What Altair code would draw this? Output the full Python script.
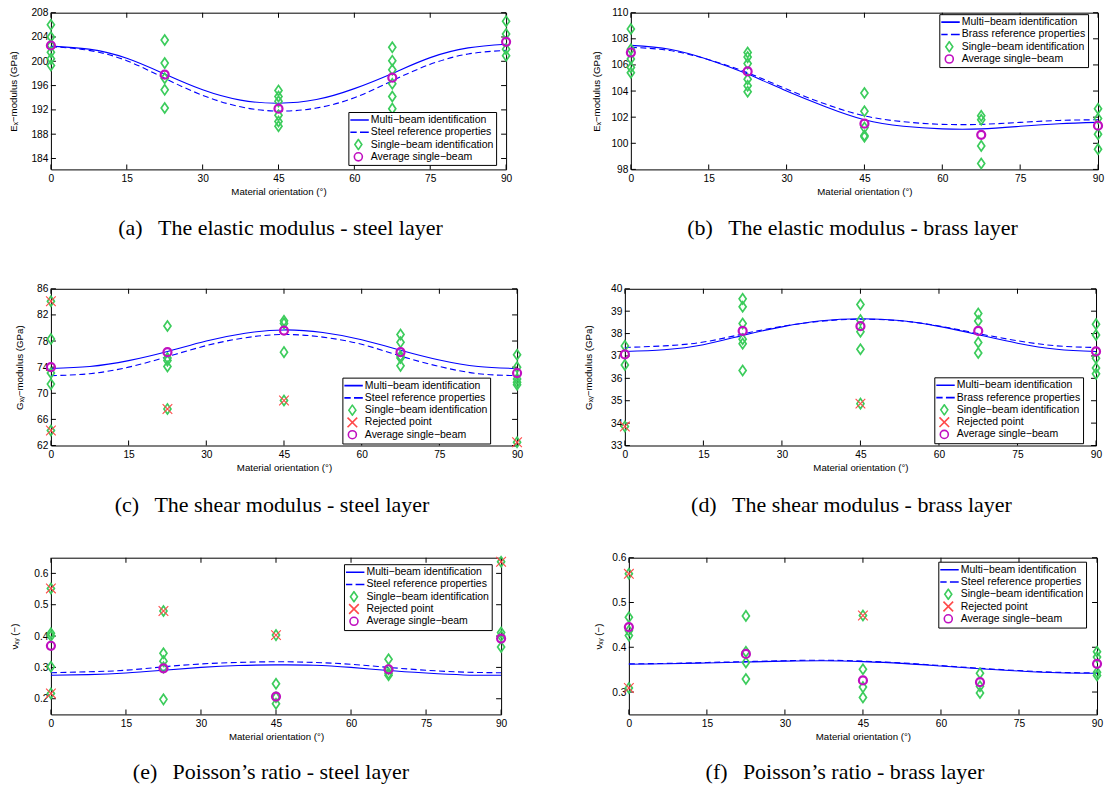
import altair as alt
import pandas as pd

# ---------------- shared values ----------------
CURVE_ANGLES = [0, 7.5, 15, 22.5, 30, 37.5, 45, 52.5, 60, 67.5, 75, 82.5, 90]
BEAM_ANGLES = [0, 22.5, 45, 67.5, 90]
X_TICKS = [0, 15, 30, 45, 60, 75, 90]

MULTI = "Multi\u2212beam identification"
SINGLE = "Single\u2212beam identification"
REJECTED = "Rejected point"
AVERAGE = "Average single\u2212beam"
STEEL_REF = "Steel reference properties"
BRASS_REF = "Brass reference properties"

# ---------------- (a) elastic modulus - steel ----------------
A_MULTI = [202.5, 202.0, 200.5, 197.9, 195.3, 193.6, 193.1, 193.7, 195.5, 198.0, 200.6, 202.2, 202.8]
A_REF = [202.4, 201.8, 200.1, 197.2, 194.4, 192.5, 191.8, 192.3, 194.0, 196.8, 199.5, 201.2, 201.8]
A_SINGLE = [[206.0, 204.0, 202.6, 201.5, 200.4, 199.3],
            [203.5, 199.7, 197.2, 195.3, 192.3],
            [195.2, 194.2, 193.4, 191.1, 190.1, 189.3],
            [202.3, 200.1, 198.6, 196.3, 194.2, 192.2],
            [206.6, 204.5, 202.0, 200.9]]
A_REJECTED = [[], [], [], [], []]
A_AVERAGE = [202.6, 197.8, 192.2, 197.3, 203.2]
A_YTICKS = [184, 188, 192, 196, 200, 204, 208]

# ---------------- (b) elastic modulus - brass ----------------
B_MULTI = [107.5, 107.2, 106.4, 105.3, 104.0, 102.8, 101.8, 101.3, 101.1, 101.1, 101.3, 101.5, 101.6]
B_REF = [107.35, 107.1, 106.4, 105.4, 104.15, 103.0, 102.1, 101.65, 101.45, 101.45, 101.6, 101.75, 101.8]
B_SINGLE = [[108.75, 107.2, 106.45, 105.8, 105.4],
            [106.95, 106.6, 106.1, 104.9, 104.4, 103.95],
            [103.85, 102.45, 101.2, 100.6, 100.5],
            [102.1, 101.8, 99.8, 98.45],
            [102.65, 101.9, 100.7, 99.55]]
B_REJECTED = [[], [], [], [], []]
B_AVERAGE = [106.95, 105.5, 101.5, 100.65, 101.35]
B_YTICKS = [98, 100, 102, 104, 106, 108, 110]

# ---------------- (c) shear modulus - steel ----------------
C_MULTI = [73.8, 74.1, 75.0, 76.4, 78.0, 79.2, 79.7, 79.3, 78.2, 76.6, 75.1, 74.1, 73.8]
C_REF = [72.7, 73.0, 74.0, 75.6, 77.3, 78.5, 79.0, 78.6, 77.5, 75.7, 74.1, 73.0, 72.7]
C_SINGLE = [[78.3, 73.1, 71.4],
            [80.3, 75.4, 75.0, 74.1],
            [81.1, 80.7, 76.3],
            [79.0, 77.8, 75.7, 75.4, 74.2],
            [75.9, 74.0, 72.2, 71.7, 71.3]]
C_REJECTED = [[84.1, 64.3], [67.6], [68.9], [], [62.5]]
C_AVERAGE = [74.0, 76.3, 79.6, 76.3, 73.1]
C_YTICKS = [62, 66, 70, 74, 78, 82, 86]

# ---------------- (d) shear modulus - brass ----------------
D_MULTI = [37.2, 37.28, 37.5, 37.92, 38.3, 38.57, 38.66, 38.58, 38.32, 37.95, 37.57, 37.3, 37.2]
D_REF = [37.38, 37.45, 37.62, 37.98, 38.32, 38.55, 38.64, 38.57, 38.34, 38.0, 37.68, 37.45, 37.38]
D_SINGLE = [[37.45, 36.6],
            [39.55, 39.2, 38.45, 37.75, 37.55, 36.35],
            [39.3, 38.6, 38.08, 37.3],
            [38.9, 38.56, 37.6, 37.13],
            [38.42, 37.94, 36.9, 36.46, 36.2]]
D_REJECTED = [[33.85], [], [34.87], [], []]
D_AVERAGE = [37.07, 38.12, 38.33, 38.12, 37.2]
D_YTICKS = [33, 34, 35, 36, 37, 38, 39, 40]

# ---------------- (e) Poisson's ratio - steel ----------------
E_MULTI = [0.275, 0.277, 0.282, 0.291, 0.300, 0.306, 0.308, 0.307, 0.300, 0.290, 0.282, 0.276, 0.275]
E_REF = [0.283, 0.286, 0.291, 0.302, 0.311, 0.316, 0.318, 0.316, 0.310, 0.300, 0.291, 0.285, 0.283]
E_SINGLE = [[0.409, 0.400, 0.302],
            [0.345, 0.320, 0.300, 0.198],
            [0.248, 0.205, 0.184],
            [0.326, 0.294, 0.281, 0.275],
            [0.411, 0.400, 0.365]]
E_REJECTED = [[0.552, 0.217], [0.480], [0.403], [], [0.637]]
E_AVERAGE = [0.369, 0.297, 0.207, 0.294, 0.392]
E_YTICKS = [0.2, 0.3, 0.4, 0.5, 0.6]

# ---------------- (f) Poisson's ratio - brass ----------------
F_MULTI = [0.362, 0.363, 0.365, 0.367, 0.369, 0.370, 0.368, 0.364, 0.358, 0.352, 0.347, 0.343, 0.342]
F_REF = [0.363, 0.364, 0.366, 0.368, 0.370, 0.371, 0.369, 0.365, 0.359, 0.353, 0.348, 0.344, 0.343]
F_SINGLE = [[0.467, 0.437, 0.426],
            [0.470, 0.390, 0.366, 0.329],
            [0.351, 0.311, 0.288],
            [0.342, 0.313, 0.298],
            [0.390, 0.378, 0.344, 0.337]]
F_REJECTED = [[0.564, 0.309], [], [0.471], [], []]
F_AVERAGE = [0.445, 0.385, 0.326, 0.322, 0.363]
F_YTICKS = [0.3, 0.4, 0.5, 0.6]

# ---------------- styling ----------------
BLUE = "#0000ff"
GREEN = "#3ccc5c"
RED = "#ff4a4a"
MAGENTA = "#c010c0"
SANS = "Liberation Sans"
SERIF = "Liberation Serif"

PATH = {
    MULTI: "M-1.9,0H1.9",
    "ref": "M-1.9,0H-0.3M0.3,0H1.9",
    SINGLE: "M0,-0.92L0.64,0L0,0.92L-0.64,0Z",
    REJECTED: "M-0.88,-0.88L0.88,0.88M-0.88,0.88L0.88,-0.88",
    AVERAGE: "M0.73,0A0.73,0.73,0,1,1,-0.73,0A0.73,0.73,0,1,1,0.73,0Z",
}
COLOR = {MULTI: BLUE, "ref": BLUE, SINGLE: GREEN, REJECTED: RED, AVERAGE: MAGENTA}
SYM = 121
TICK_LEN = 5


def points_frame(values_per_angle, label):
    rows = []
    for ang, vals in zip(BEAM_ANGLES, values_per_angle):
        for v in vals:
            rows.append({"angle": ang, "value": v, "series": label})
    return pd.DataFrame(rows, columns=["angle", "value", "series"])


def panel(multi, ref, single, rejected, average, yticks, ydomain, yfmt, ytitle,
          ref_label, caption, legend_xy, width, height, y_extent, y_title_pad,
          with_rejected, cap_offset, cap_dx):
    keys = [MULTI, "ref", SINGLE] + ([REJECTED] if with_rejected else []) + [AVERAGE]
    names = [ref_label if k == "ref" else k for k in keys]
    shape_scale = alt.Scale(domain=names, range=[PATH[k] for k in keys])
    color_scale = alt.Scale(domain=names, range=[COLOR[k] for k in keys])
    legend = alt.Legend(title=None, orient="none", legendX=legend_xy[0], legendY=legend_xy[1],
                        padding=2, strokeColor="black", fillColor="white", cornerRadius=0,
                        labelFont=SANS, labelFontSize=10.5, labelColor="black",
                        symbolSize=SYM, symbolStrokeWidth=1.6, symbolOffset=1.5,
                        labelOffset=6, rowPadding=0.3, clipHeight=12, labelLimit=300)

    xs = alt.Scale(domain=[0, 90], nice=False, zero=False)
    ys = alt.Scale(domain=ydomain, nice=False, zero=False)
    xaxis = alt.Axis(values=X_TICKS, format="d", title="Material orientation (\u00b0)",
                     labelFlush=False, labelOverlap=False)
    yaxis = alt.Axis(values=yticks, format=yfmt, title=ytitle, labelFlush=False,
                     labelOverlap=False, minExtent=y_extent, maxExtent=y_extent,
                     titlePadding=y_title_pad)

    curve = pd.DataFrame({"angle": CURVE_ANGLES, "multi": multi, "ref": ref})
    ytick_df = pd.DataFrame({"v": yticks})
    xtick_df = pd.DataFrame({"t": X_TICKS})

    def X(field):
        return alt.X(field, scale=xs, axis=xaxis)

    def Y(field):
        return alt.Y(field, scale=ys, axis=yaxis)

    half = TICK_LEN / 2
    tick_style = dict(color="black", size=TICK_LEN, thickness=1, opacity=1)
    t_left = alt.Chart(ytick_df).mark_tick(orient="horizontal", **tick_style).encode(
        y=Y("v:Q"), x=alt.value(half))
    t_right = alt.Chart(ytick_df).mark_tick(orient="horizontal", **tick_style).encode(
        y=Y("v:Q"), x=alt.value(width - half))
    t_bottom = alt.Chart(xtick_df).mark_tick(orient="vertical", **tick_style).encode(
        x=X("t:Q"), y=alt.value(height - half))
    t_top = alt.Chart(xtick_df).mark_tick(orient="vertical", **tick_style).encode(
        x=X("t:Q"), y=alt.value(half))

    ref_line = alt.Chart(curve).mark_line(color=BLUE, strokeWidth=1.1, strokeDash=[6, 3.5],
                                          interpolate="natural").encode(
        x=X("angle:Q"), y=Y("ref:Q"))
    multi_line = alt.Chart(curve).mark_line(color=BLUE, strokeWidth=1.1,
                                            interpolate="natural").encode(
        x=X("angle:Q"), y=Y("multi:Q"))

    def pts(df, sw):
        return alt.Chart(df).mark_point(filled=False, strokeWidth=sw, size=SYM, opacity=1).encode(
            x=X("angle:Q"), y=Y("value:Q"),
            shape=alt.Shape("series:N", scale=shape_scale, legend=legend),
            color=alt.Color("series:N", scale=color_scale, legend=legend))

    single_all = [s + r for s, r in zip(single, rejected)]
    layers = [ref_line, multi_line, t_left, t_right, t_bottom, t_top,
              pts(points_frame(single_all, SINGLE), 1.7)]
    if with_rejected:
        layers.append(pts(points_frame(rejected, REJECTED), 1.1))
    layers.append(pts(points_frame([[a] for a in average], AVERAGE), 2.2))

    return alt.layer(*layers).properties(
        width=width, height=height,
        title=alt.TitleParams(caption, orient="bottom", anchor="middle", font=SERIF,
                              fontSize=22, fontWeight="normal", color="black",
                              offset=cap_offset, dx=cap_dx))


GAP = "\u00a0\u00a0\u2009"
pa = panel(A_MULTI, A_REF, A_SINGLE, A_REJECTED, A_AVERAGE, A_YTICKS, [182.2, 208], "d",
           "E\u2093\u2212modulus (GPa)", STEEL_REF,
           "(a)" + GAP + "The elastic modulus - steel layer", (298, 99.5),
           456, 157, 26, 6, False, 22.7, 2)
pb = panel(B_MULTI, B_REF, B_SINGLE, B_REJECTED, B_AVERAGE, B_YTICKS, [98, 110], "d",
           "E\u2093\u2212modulus (GPa)", BRASS_REF,
           "(b)" + GAP + "The elastic modulus - brass layer", (309, 1.5),
           468, 157, 23, 6, False, 22.7, -12)
pc = panel(C_MULTI, C_REF, C_SINGLE, C_REJECTED, C_AVERAGE, C_YTICKS, [62, 86], "d",
           "G\u2093\u1d67\u2212modulus (GPa)", STEEL_REF,
           "(c)" + GAP + "The shear modulus - steel layer", (292, 89),
           467, 157, 20, 6, True, 23.5, -12)
pd_ = panel(D_MULTI, D_REF, D_SINGLE, D_REJECTED, D_AVERAGE, D_YTICKS, [33, 40], "d",
            "G\u2093\u1d67\u2212modulus (GPa)", BRASS_REF,
            "(d)" + GAP + "The shear modulus - brass layer", (310, 88.7),
            472, 157, 24, 7, True, 23.5, -9)
pe = panel(E_MULTI, E_REF, E_SINGLE, E_REJECTED, E_AVERAGE, E_YTICKS, [0.15, 0.65], ".1f",
           "\u03bd\u2093\u1d67 (\u2212)", STEEL_REF,
           "(e)" + GAP + "Poisson\u2019s ratio - steel layer", (293.6, 6.5),
           451, 157, 25, 6, True, 21, -5)
pf = panel(F_MULTI, F_REF, F_SINGLE, F_REJECTED, F_AVERAGE, F_YTICKS, [0.25, 0.6], ".1f",
           "\u03bd\u2093\u1d67 (\u2212)", STEEL_REF,
           "(f)" + GAP + "Poisson\u2019s ratio - brass layer", (310, 4),
           469, 157, 20, 5, True, 21, -18)

row1 = alt.hconcat(pa, pb, spacing=76).resolve_scale(color="independent", shape="independent")
row2 = alt.hconcat(pc, pd_, spacing=57).resolve_scale(color="independent", shape="independent")
row3 = alt.hconcat(pe, pf, spacing=83).resolve_scale(color="independent", shape="independent")

chart = alt.vconcat(
    row1,
    alt.vconcat(row2, row3, spacing=34.4).resolve_scale(color="independent", shape="independent"),
    spacing=42.6,
).resolve_scale(color="independent", shape="independent").configure(
    padding={"left": 8, "top": 6, "right": 0, "bottom": 0},
    background="white",
    font=SANS,
).configure_view(stroke="black", strokeWidth=1).configure_axis(
    grid=False, domain=False, ticks=False, tickSize=0,
    labelFont=SANS, labelFontSize=10.2, labelColor="black",
    titleFont=SANS, titleFontSize=9.7, titleFontWeight="normal", titleColor="black",
).configure_axisX(labelPadding=4, titlePadding=2.5).configure_axisY(labelPadding=3)

chart.save("out.html", embed_options={"renderer": "svg", "actions": False})
